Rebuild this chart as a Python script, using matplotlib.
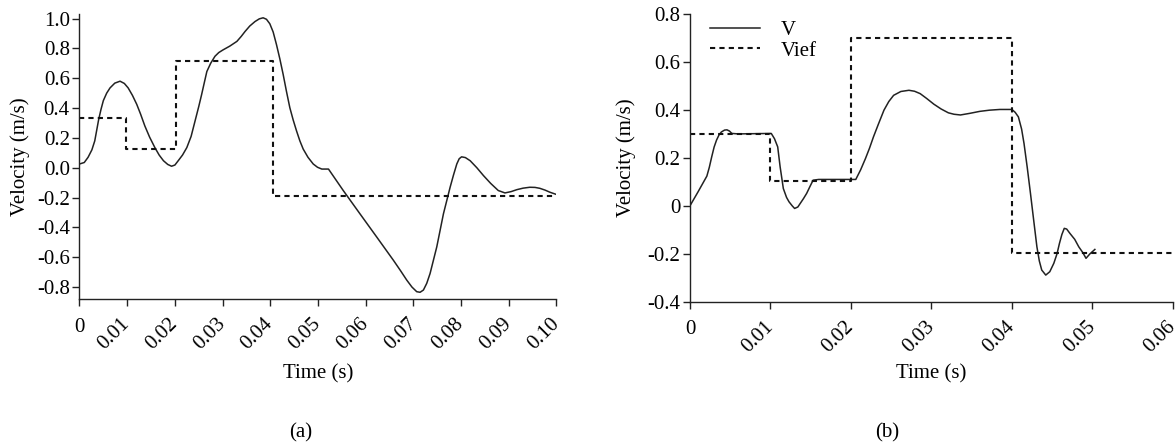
import matplotlib
matplotlib.use("Agg")
import matplotlib.pyplot as plt

plt.rcParams['font.family'] = ['Liberation Serif', 'DejaVu Serif']
plt.rcParams['axes.unicode_minus'] = False

# ---- Panel (a) data ----
a_t = [0.0, 0.001, 0.0018, 0.0026, 0.0032, 0.0036, 0.0040, 0.0045, 0.0050, 0.0057,
       0.0064, 0.0074, 0.0085, 0.0094, 0.0102, 0.0111, 0.0120, 0.0128, 0.0137, 0.0147,
       0.0158, 0.0167, 0.0176, 0.0185, 0.0193, 0.0200, 0.0207, 0.0216, 0.0225, 0.0234,
       0.0242, 0.0250, 0.0256, 0.0262, 0.0267, 0.0275, 0.0284, 0.0292, 0.0301, 0.0315,
       0.0330, 0.0339, 0.0347, 0.0357, 0.0368, 0.0377, 0.0385, 0.0392, 0.0399, 0.0406,
       0.0413, 0.0420, 0.0427, 0.0434, 0.0441, 0.0448, 0.0455, 0.0462, 0.0469, 0.0479,
       0.0490, 0.0499, 0.0508, 0.0522, 0.0553, 0.0588, 0.0623, 0.0658, 0.0673, 0.0686,
       0.0697, 0.0707, 0.0714, 0.0721, 0.0728, 0.0735, 0.0742, 0.0749, 0.0756, 0.0763,
       0.0770, 0.0777, 0.0784, 0.0791, 0.0796, 0.0801, 0.0809, 0.0819, 0.0833, 0.0847,
       0.0862, 0.0878, 0.0892, 0.0905, 0.0917, 0.0930, 0.0944, 0.0955, 0.0965, 0.0976,
       0.0986, 0.1005]
a_v = [0.025, 0.035, 0.07, 0.12, 0.18, 0.25, 0.32, 0.39, 0.45, 0.50,
       0.535, 0.567, 0.58, 0.565, 0.535, 0.485, 0.425, 0.36, 0.28, 0.205,
       0.135, 0.085, 0.047, 0.022, 0.01, 0.018, 0.047, 0.085, 0.135, 0.21,
       0.31, 0.41, 0.49, 0.575, 0.645, 0.70, 0.747, 0.772, 0.79, 0.815,
       0.847, 0.88, 0.913, 0.95, 0.98, 0.998, 1.005, 0.995, 0.965, 0.91,
       0.825, 0.73, 0.625, 0.51, 0.402, 0.32, 0.247, 0.18, 0.125, 0.07,
       0.025, 0.003, -0.009, -0.009, -0.153, -0.309, -0.464, -0.62, -0.69, -0.753,
       -0.80, -0.831, -0.835, -0.82, -0.775, -0.709, -0.62, -0.531, -0.42, -0.309,
       -0.22, -0.131, -0.05, 0.025, 0.06, 0.073, 0.068, 0.047, 0.0, -0.053,
       -0.105, -0.153, -0.169, -0.16, -0.147, -0.137, -0.131, -0.132, -0.138, -0.150,
       -0.164, -0.185]
a_ref_t = [0.0, 0.0097, 0.0203, 0.0405, 0.1005]
a_ref_v = [0.33, 0.125, 0.715, -0.187]
a_xticks = [0.0, 0.01, 0.02, 0.03, 0.04, 0.05, 0.06, 0.07, 0.08, 0.09, 0.10]
a_xlabels = ['0', '0.01', '0.02', '0.03', '0.04', '0.05', '0.06', '0.07', '0.08', '0.09', '0.10']
a_yticks = [1.0, 0.8, 0.6, 0.4, 0.2, 0.0, -0.2, -0.4, -0.6, -0.8]
a_ylabels = ['1.0', '0.8', '0.6', '0.4', '0.2', '0.0', '-0.2', '-0.4', '-0.6', '-0.8']

# ---- Panel (b) data ----
b_t = [0.0, 0.001, 0.0021, 0.0024, 0.0027, 0.0030, 0.0033, 0.0036, 0.0039, 0.0043,
       0.0046, 0.0049, 0.0052, 0.0060, 0.0101, 0.0105, 0.0109, 0.0112, 0.0116, 0.0120,
       0.0123, 0.0127, 0.0130, 0.0134, 0.0137, 0.0141, 0.0145, 0.0149, 0.0153, 0.0160,
       0.0206, 0.0212, 0.0218, 0.0223, 0.0228, 0.0234, 0.0241, 0.0247, 0.0253, 0.0262,
       0.0272, 0.0279, 0.0286, 0.0294, 0.0303, 0.0312, 0.0321, 0.0328, 0.0336, 0.0348,
       0.0360, 0.0372, 0.0385, 0.0400, 0.0404, 0.0408, 0.0412, 0.0415, 0.0419, 0.0423,
       0.0427, 0.0431, 0.0434, 0.0437, 0.0442, 0.0447, 0.0452, 0.0456, 0.0459, 0.0462,
       0.0465, 0.0468, 0.0472, 0.0478, 0.0483, 0.0488, 0.0492, 0.0497, 0.0503]
b_v = [0.0, 0.058, 0.124, 0.16, 0.204, 0.245, 0.274, 0.295, 0.308, 0.316,
       0.317, 0.312, 0.302, 0.30, 0.302, 0.28, 0.246, 0.163, 0.072, 0.035,
       0.017, 0.0, -0.011, -0.005, 0.01, 0.03, 0.052, 0.08, 0.107, 0.11,
       0.11, 0.15, 0.197, 0.24, 0.288, 0.34, 0.399, 0.435, 0.461, 0.477,
       0.482, 0.478, 0.468, 0.448, 0.424, 0.404, 0.388, 0.382, 0.379, 0.386,
       0.394, 0.399, 0.402, 0.402, 0.39, 0.371, 0.32, 0.26, 0.16, 0.052,
       -0.06, -0.171, -0.23, -0.268, -0.289, -0.275, -0.24, -0.20, -0.157, -0.12,
       -0.094, -0.097, -0.115, -0.14, -0.171, -0.195, -0.219, -0.20, -0.182]
b_ref_t = [0.0, 0.01, 0.02, 0.04, 0.06]
b_ref_v = [0.3, 0.104, 0.7, -0.197]
b_xticks = [0.0, 0.01, 0.02, 0.03, 0.04, 0.05, 0.06]
b_xlabels = ['0', '0.01', '0.02', '0.03', '0.04', '0.05', '0.06']
b_yticks = [0.8, 0.6, 0.4, 0.2, 0.0, -0.2, -0.4]
b_ylabels = ['0.8', '0.6', '0.4', '0.2', '0', '-0.2', '-0.4']

FS = 15
fig = plt.figure(figsize=(11.76, 4.48), dpi=100)

def style(ax, xticks, xlabels, yticks, ylabels, xl_y, yl_x):
    for s in ('top', 'right'):
        ax.spines[s].set_visible(False)
    for s in ('left', 'bottom'):
        ax.spines[s].set_linewidth(1.0)
        ax.spines[s].set_color('#222222')
    ax.set_xticks(xticks)
    ax.set_xticklabels(xlabels)
    ax.set_yticks(yticks)
    ax.set_yticklabels(ylabels, fontsize=FS)
    ax.tick_params(direction='out', length=5, width=1.0, color='#222222')
    ax.tick_params(axis='y', pad=2)
    ax.tick_params(axis='x', pad=11)
    labs = ax.get_xticklabels()
    for i, lab in enumerate(labs):
        lab.set_fontsize(FS)
        if i == 0:
            lab.set_rotation(0)
            lab.set_ha('center')
            lab.set_va('top')
            lab.set_y(0.012)
        else:
            lab.set_rotation(45)
            lab.set_rotation_mode('anchor')
            lab.set_ha('right')
            lab.set_va('center')
    ax.set_xlabel('Time (s)', fontsize=FS)
    ax.set_ylabel('Velocity (m/s)', fontsize=FS)
    ax.xaxis.set_label_coords(0.5, xl_y)
    ax.yaxis.set_label_coords(yl_x, 0.5)

axa = fig.add_axes([0.0676, 0.3326, 0.4056, 0.636])
axa.plot(a_t, a_v, color='#222222', lw=1.1, label='V')
axa.step(a_ref_t, a_ref_v + [a_ref_v[-1]], where='post', color='#111111', lw=1.5,
         linestyle=(0, (2.5, 2)), label='Vief')
axa.set_xlim(0, 0.1)
axa.set_ylim(-0.88, 1.03)
style(axa, a_xticks, a_xlabels, a_yticks, a_ylabels, -0.228, -0.104)

axb = fig.add_axes([0.5867, 0.3266, 0.4107, 0.642])
axb.plot(b_t, b_v, color='#222222', lw=1.1, label='V')
axb.step(b_ref_t, b_ref_v + [b_ref_v[-1]], where='post', color='#111111', lw=1.5,
         linestyle=(0, (2.5, 2)), label='Vief')
axb.set_xlim(0, 0.06)
axb.set_ylim(-0.4, 0.8)
style(axb, b_xticks, b_xlabels, b_yticks, b_ylabels, -0.2165, -0.112)
axb.legend(loc='upper left', bbox_to_anchor=(0.041, 0.978), frameon=False, fontsize=FS,
           handlelength=2.4, handletextpad=1.0, labelspacing=0.05,
           borderpad=0.0, borderaxespad=0.0)

fig.text(301 / 1176, 1 - 433 / 448, '(a)', ha='center', va='center', fontsize=FS)
fig.text(887 / 1176, 1 - 433 / 448, '(b)', ha='center', va='center', fontsize=FS)

fig.savefig('out.png', dpi=100)
